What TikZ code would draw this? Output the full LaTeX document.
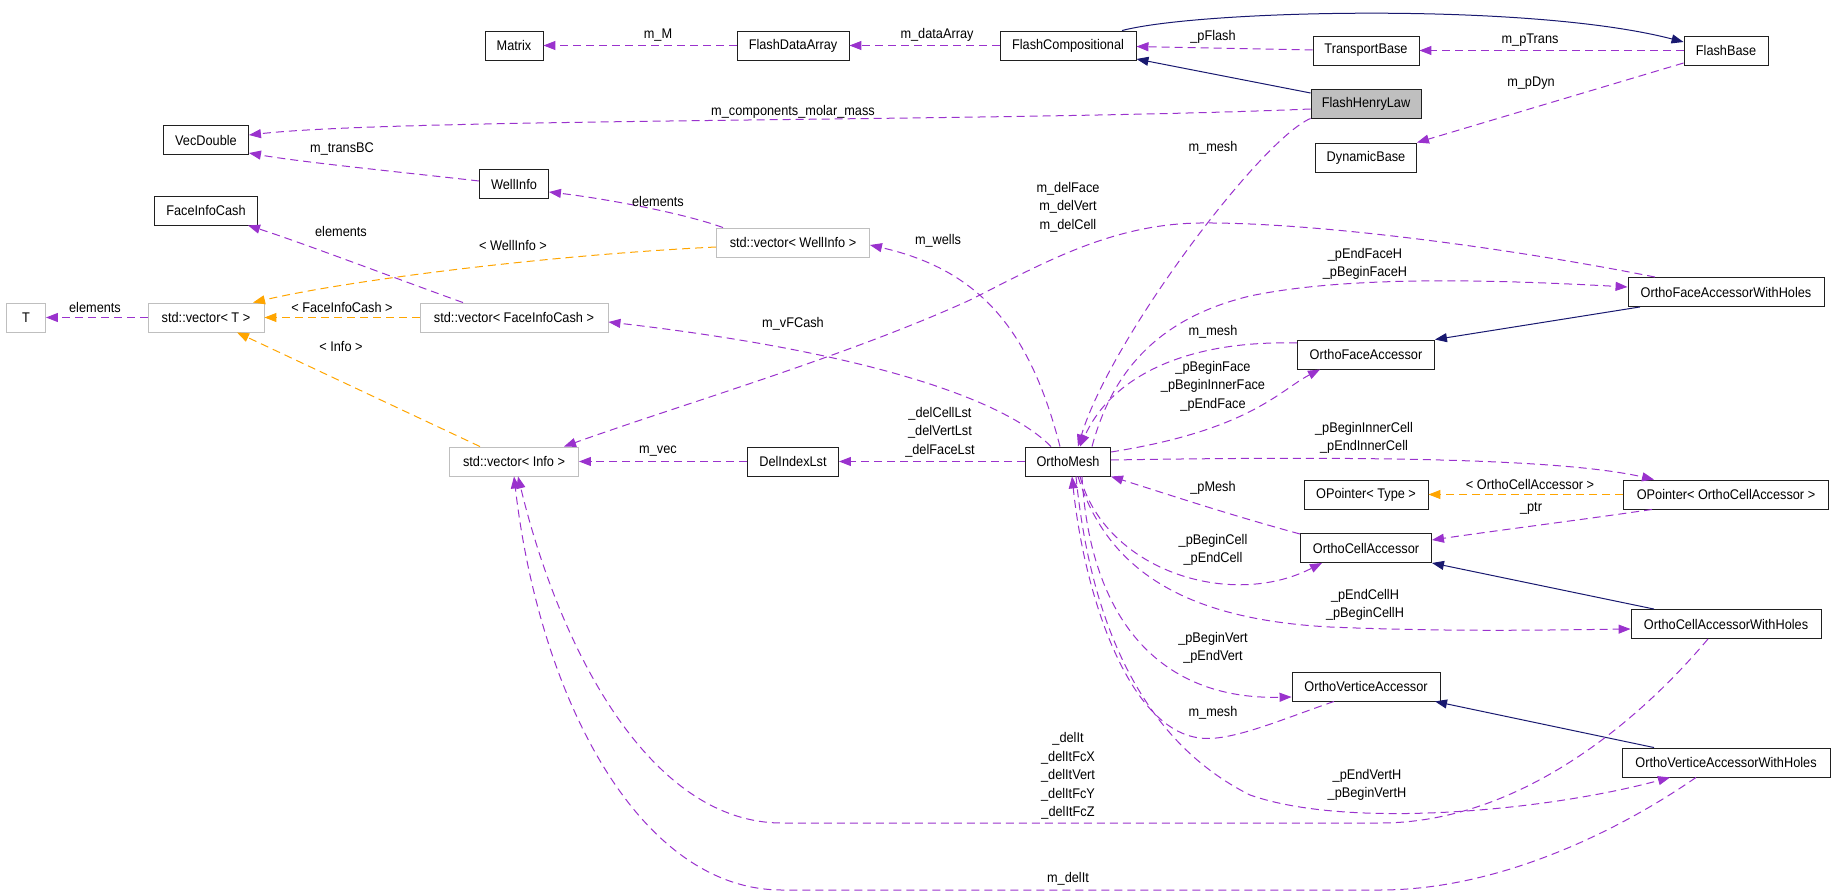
\documentclass[tikz,border=0pt]{standalone}
\usepackage{fontspec}
\setmainfont[FakeStretch=0.91]{Liberation Sans}
\usetikzlibrary{arrows.meta}
\definecolor{edgepurple}{HTML}{9A32CD}
\definecolor{edgeorange}{HTML}{FFA500}
\definecolor{edgenavy}{HTML}{191970}
\definecolor{tmplgray}{HTML}{BFBFBF}
\definecolor{boxline}{HTML}{202020}
\newcommand\dxfont{\fontsize{14}{18.5}\selectfont}
\tikzset{
  box/.style={draw=boxline, line width=0.9pt, minimum height=29pt, inner sep=1pt, font=\dxfont},
  tbox/.style={box, draw=tmplgray},
  mem/.style={draw=edgepurple, line width=1pt, dash pattern=on 8pt off 5pt, -{Triangle[length=12pt,width=9pt]}},
  tmpl/.style={mem, draw=edgeorange},
  inh/.style={draw=edgenavy, line width=1pt, -{Triangle[length=12pt,width=9pt]}},
  lab/.style={inner sep=0pt, align=center, font=\dxfont}
}
\begin{document}
\begin{tikzpicture}[x=1pt,y=-1pt]
\useasboundingbox (0,0) rectangle (1835,896);
% nodes
\node[box, minimum width=58pt]  (Matrix) at (514,45.5) {Matrix};
\node[box, minimum width=112pt] (FlashDataArray) at (793,45.5) {FlashDataArray};
\node[box, minimum width=136pt] (FlashCompositional) at (1068,45.5) {FlashCompositional};
\node[box, minimum width=106pt] (TransportBase) at (1366,50.5) {TransportBase};
\node[box, minimum width=84pt]  (FlashBase) at (1726,50.5) {FlashBase};
\node[box, minimum width=110pt, fill=tmplgray] (FlashHenryLaw) at (1366,103.5) {FlashHenryLaw};
\node[box, minimum width=101pt] (DynamicBase) at (1366,157.5) {DynamicBase};
\node[box, minimum width=85pt]  (VecDouble) at (206,140) {VecDouble};
\node[box, minimum width=69pt]  (WellInfo) at (514,184) {WellInfo};
\node[box, minimum width=103pt] (FaceInfoCash) at (206,210.5) {FaceInfoCash};
\node[tbox, minimum width=153pt] (vecWellInfo) at (793,242.5) {std::vector< WellInfo >};
\node[box, minimum width=196pt] (OFAWH) at (1726,292) {OrthoFaceAccessorWithHoles};
\node[tbox, minimum width=39pt] (T) at (26,317.5) {T};
\node[tbox, minimum width=116pt] (vecT) at (206,317.5) {std::vector< T >};
\node[tbox, minimum width=188pt] (vecFaceInfoCash) at (514,317.5) {std::vector< FaceInfoCash >};
\node[box, minimum width=137pt] (OFA) at (1366,354.5) {OrthoFaceAccessor};
\node[tbox, minimum width=129pt] (vecInfo) at (514,461.5) {std::vector< Info >};
\node[box, minimum width=91pt]  (DelIndexLst) at (793,461.5) {DelIndexLst};
\node[box, minimum width=85pt]  (OrthoMesh) at (1068,461.5) {OrthoMesh};
\node[box, minimum width=124pt] (OPType) at (1366,494.5) {OPointer< Type >};
\node[box, minimum width=205pt] (OPOCA) at (1726,494.5) {OPointer< OrthoCellAccessor >};
\node[box, minimum width=131pt] (OCA) at (1366,548) {OrthoCellAccessor};
\node[box, minimum width=190pt] (OCAWH) at (1726,624) {OrthoCellAccessorWithHoles};
\node[box, minimum width=148pt] (OVA) at (1366,686.5) {OrthoVerticeAccessor};
\node[box, minimum width=208pt] (OVAWH) at (1726,762.5) {OrthoVerticeAccessorWithHoles};
% edges
\draw[mem] (FlashDataArray.west) -- (Matrix.east);
\draw[mem] (FlashCompositional.west) -- (FlashDataArray.east);
\draw[inh] (FlashCompositional.north -| 1122,0) .. controls (1200,10) and (1530,2) .. (FlashBase.west |- 0,42);
\draw[mem] (TransportBase.west |- 0,50) -- (FlashCompositional.east |- 0,46.5);
\draw[inh] (FlashHenryLaw.west |- 0,93) -- (FlashCompositional.east |- 0,59);
\draw[mem] (FlashBase.west) -- (TransportBase.east);
\draw[mem] (FlashBase.west |- 0,63) -- (DynamicBase.north east);
\draw[mem] (FlashHenryLaw.west |- 0,109) .. controls (1000,122) and (400,118) .. (VecDouble.east |- 0,135);
\draw[mem] (FlashHenryLaw.south west) .. controls (1260,140) and (1110,340) .. (OrthoMesh.north -| 1078,0);
\draw[mem] (OFA.west |- 0,343) .. controls (1180,340) and (1110,380) .. (OrthoMesh.north -| 1080,0);
\draw[mem] (OrthoMesh.east |- 0,452) .. controls (1250,430) and (1280,390) .. (OFA.south -| 1320,0);
\draw[mem] (OrthoMesh.north -| 1092,0) .. controls (1110,380) and (1150,320) .. (1250,296) .. controls (1350,275) and (1500,280) .. (OFAWH.west |- 0,287);
\draw[inh] (OFAWH.south -| 1640,0) -- (OFA.north east);
\draw[mem] (OFAWH.north -| 1655,0) .. controls (1520,250) and (1320,222) .. (1200,223) .. controls (1110,224) and (1040,265) .. (970,300) .. controls (850,355) and (680,405) .. (vecInfo.north -| 564,0);
\draw[mem] (OrthoMesh.north -| 1060,0) .. controls (1030,330) and (980,270) .. (vecWellInfo.east |- 0,245);
\draw[mem] (OrthoMesh.north -| 1051,0) .. controls (1000,395) and (850,350) .. (vecFaceInfoCash.east |- 0,322);
\draw[mem] (OrthoMesh.west) -- (DelIndexLst.east);
\draw[mem] (DelIndexLst.west) -- (vecInfo.east);
\draw[mem] (vecWellInfo.north -| 723,0) .. controls (680,212) and (600,198) .. (WellInfo.east |- 0,192);
\draw[mem] (WellInfo.west |- 0,181) .. controls (400,172) and (300,162) .. (VecDouble.east |- 0,153);
\draw[mem] (vecFaceInfoCash.north -| 463,0) .. controls (400,280) and (300,242) .. (FaceInfoCash.south -| 248,0);
\draw[tmpl] (vecWellInfo.west |- 0,247) .. controls (550,255) and (350,280) .. (vecT.north -| 253,0);
\draw[tmpl] (vecFaceInfoCash.west) -- (vecT.east);
\draw[tmpl] (vecInfo.north -| 480,0) -- (vecT.south -| 237,0);
\draw[mem] (vecT.west) -- (T.east);
\draw[mem] (OrthoMesh.east |- 0,460) .. controls (1350,456) and (1560,458) .. (OPOCA.north -| 1654,0);
\draw[tmpl] (OPOCA.west) -- (OPType.east);
\draw[mem] (OPOCA.south -| 1652,0) .. controls (1580,520) and (1500,530) .. (OCA.east |- 0,540);
\draw[mem] (OCA.west |- 0,534) .. controls (1230,515) and (1170,495) .. (OrthoMesh.south east);
\draw[mem] (OrthoMesh.south -| 1080,0) .. controls (1105,570) and (1230,610) .. (OCA.south -| 1322,0);
\draw[inh] (OCAWH.north -| 1654,0) -- (OCA.south east);
\draw[mem] (OrthoMesh.south -| 1078,0) .. controls (1110,580) and (1200,620) .. (1330,627) .. controls (1450,632) and (1550,630) .. (OCAWH.west |- 0,629);
\draw[mem] (OrthoMesh.south -| 1082,0) .. controls (1090,620) and (1160,700) .. (OVA.west |- 0,697);
\draw[mem] (OVA.south -| 1334,0) .. controls (1280,720) and (1230,742) .. (1200,738) .. controls (1130,730) and (1085,600) .. (OrthoMesh.south -| 1072,0);
\draw[inh] (OVAWH.north -| 1654,0) -- (OVA.south -| 1435,0);
\draw[mem] (OrthoMesh.south -| 1076,0) .. controls (1090,620) and (1140,740) .. (1250,795) .. controls (1350,830) and (1550,810) .. (OVAWH.south -| 1670,0);
\draw[mem] (OCAWH.south -| 1708,0) .. controls (1640,720) and (1520,823) .. (1380,823) -- (782,823) .. controls (650,823) and (560,650) .. (vecInfo.south -| 518,0);
\draw[mem] (OVAWH.south -| 1696,0) .. controls (1620,830) and (1500,890) .. (1380,890) -- (782,890) .. controls (640,890) and (540,700) .. (vecInfo.south -| 514,0);
% labels
\node[lab] (l1) at (658,35) {m\_M};
\node[lab] (l2) at (937,35) {m\_dataArray};
\node[lab] (l3) at (1213,37) {\_pFlash};
\node[lab] (l4) at (1530,40) {m\_pTrans};
\node[lab] (l5) at (1531,83) {m\_pDyn};
\node[lab] (l6) at (793,112) {m\_components\_molar\_mass};
\node[lab] (l7) at (1213,148) {m\_mesh};
\node[lab] (l8) at (342,149) {m\_transBC};
\node[lab] (l9) at (658,201) {elements};
\node[lab] (l10) at (341,231) {elements};
\node[lab] (l11) at (513,245) {< WellInfo >};
\node[lab] (l12) at (938,241) {m\_wells};
\node[lab] (l13) at (1068,207) {m\_delFace\\m\_delVert\\m\_delCell};
\node[lab] (l14) at (1365,264) {\_pEndFaceH\\\_pBeginFaceH};
\node[lab] (l15) at (342,307) {< FaceInfoCash >};
\node[lab] (l16) at (95,307) {elements};
\node[lab] (l17) at (793,324) {m\_vFCash};
\node[lab] (l18) at (1213,332) {m\_mesh};
\node[lab] (l19) at (341,347) {< Info >};
\node[lab] (l20) at (1213,386) {\_pBeginFace\\\_pBeginInnerFace\\\_pEndFace};
\node[lab] (l21) at (940,432) {\_delCellLst\\\_delVertLst\\\_delFaceLst};
\node[lab] (l22) at (658,451) {m\_vec};
\node[lab] (l23) at (1364,438) {\_pBeginInnerCell\\\_pEndInnerCell};
\node[lab] (l24) at (1530,484) {< OrthoCellAccessor >};
\node[lab] (l25) at (1213,488) {\_pMesh};
\node[lab] (l26) at (1531,508) {\_ptr};
\node[lab] (l27) at (1213,550) {\_pBeginCell\\\_pEndCell};
\node[lab] (l28) at (1365,605) {\_pEndCellH\\\_pBeginCellH};
\node[lab] (l29) at (1213,648) {\_pBeginVert\\\_pEndVert};
\node[lab] (l30) at (1213,713) {m\_mesh};
\node[lab] (l31) at (1068,776) {\_delIt\\\_delItFcX\\\_delItVert\\\_delItFcY\\\_delItFcZ};
\node[lab] (l32) at (1367,785) {\_pEndVertH\\\_pBeginVertH};
\node[lab] (l33) at (1068,879) {m\_delIt};
\end{tikzpicture}
\end{document}
